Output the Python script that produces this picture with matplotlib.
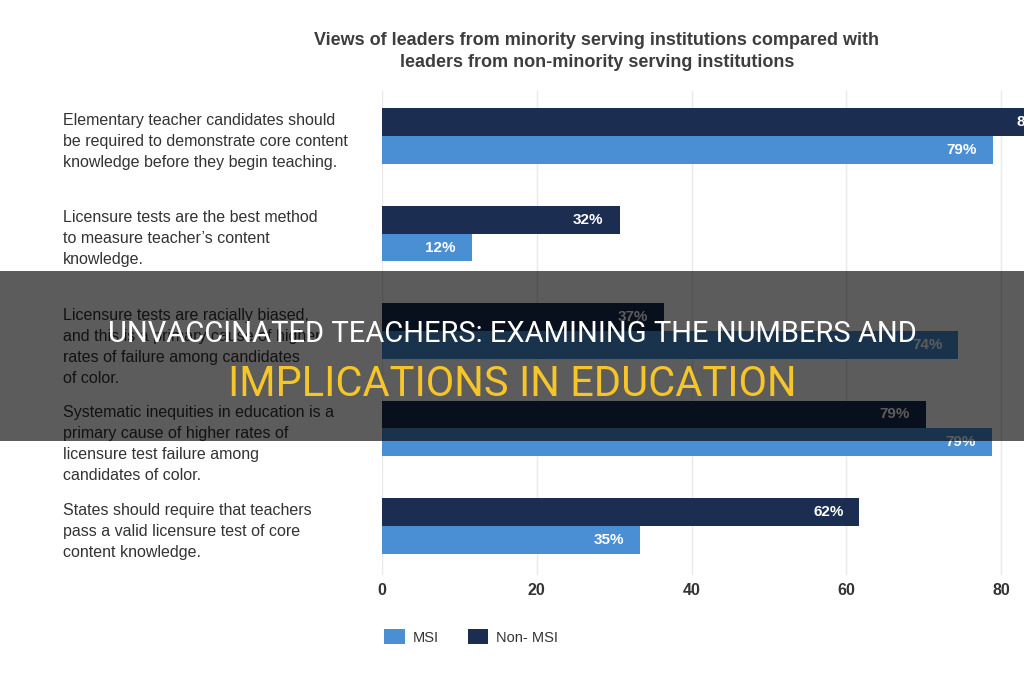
import matplotlib
matplotlib.use("Agg")
import matplotlib.pyplot as plt
from matplotlib.patches import Rectangle
from matplotlib.transforms import blended_transform_factory
import numpy as np

# ---- data ----
categories = [
    "Elementary teacher candidates should\nbe required to demonstrate core content\nknowledge before they begin teaching.",
    "Licensure tests are the best method\nto measure teacher\u2019s content\nknowledge.",
    "Licensure tests are racially biased,\nand this is a primary cause of higher\nrates of failure among candidates\nof color.",
    "Systematic inequities in education is a\nprimary cause of higher rates of\nlicensure test failure among\ncandidates of color.",
    "States should require that teachers\npass a valid licensure test of core\ncontent knowledge.",
]
non_msi = [88, 30.7, 36.4, 70.3, 61.7]
msi = [78.9, 11.6, 74.5, 78.8, 33.4]
non_msi_labels = ["88%", "32%", "37%", "79%", "62%"]
msi_labels = ["79%", "12%", "74%", "79%", "35%"]
series_names = ["MSI", "Non- MSI"]
xticks = [0, 20, 40, 60, 80]
title = "Views of leaders from minority serving institutions compared with\nleaders from non-minority serving institutions"
banner_line1 = "UNVACCINATED TEACHERS: EXAMINING THE NUMBERS AND"
banner_line2 = "IMPLICATIONS IN EDUCATION"

MSI_COLOR = "#4a8fd3"
NON_COLOR = "#1b2e51"
TEXT = "#333333"

plt.rcParams['font.family'] = ['Liberation Sans', 'DejaVu Sans']

fig = plt.figure(figsize=(10.24, 6.8), dpi=100)
fig.patch.set_facecolor("white")
ax = fig.add_axes([382/1024, 105/680, 1 - 382/1024, (575 - 90.7)/680])

y = np.arange(len(categories))
h = 0.287
b_non = ax.barh(y - h/2, non_msi, height=h, color=NON_COLOR, label=series_names[1], zorder=2)
b_msi = ax.barh(y + h/2, msi, height=h, color=MSI_COLOR, label=series_names[0], zorder=2)

ax.set_xlim(0, 82.97)
ax.set_ylim(4.503, -0.465)
ax.set_xticks(xticks)
ax.set_xticklabels([str(t) for t in xticks], fontsize=11.5, fontweight="bold", color=TEXT)
ax.tick_params(axis="x", length=0, pad=6)
ax.set_yticks([])
for s in ax.spines.values():
    s.set_visible(False)
ax.grid(axis="x", color="#e9e9e9", linewidth=1, zorder=0)
ax.set_axisbelow(True)

for bars, labels in ((b_non, non_msi_labels), (b_msi, msi_labels)):
    for rect, lab in zip(bars, labels):
        ax.annotate(lab, xy=(rect.get_width(), rect.get_y() + rect.get_height()/2),
                    xytext=(-16, 0), textcoords="offset pixels",
                    ha="right", va="center", color="white", fontsize=11,
                    fontweight="bold", annotation_clip=False, clip_on=False)

tr = blended_transform_factory(fig.transFigure, ax.transData)
for i, cat in enumerate(categories):
    ax.text(63/1024, i - h + 0.05, cat, transform=tr, ha="left", va="top",
            fontsize=11.5, color=TEXT, linespacing=1.5, clip_on=False)

fig.text(597/1024, 1 - 51.5/680, title, ha="center", va="center", fontsize=13,
         fontweight="bold", color="#3d3d3d", linespacing=1.45)

handles = [b_msi, b_non]
fig.legend(handles, series_names, loc="center left", bbox_to_anchor=(371/1024, 1 - 637/680),
           ncol=2, frameon=False, fontsize=10.5, handlelength=1.4, handleheight=1.2,
           handletextpad=0.55, columnspacing=2.0, labelcolor=TEXT)

# overlay banner
fig.add_artist(Rectangle((0, 1 - 441/680), 1, 170/680, transform=fig.transFigure,
                         facecolor="black", alpha=0.64, edgecolor="none", zorder=10))
fig.text(0.5, 1 - 334/680, banner_line1, ha="center", va="center", fontsize=21,
         color="white", family=["Roboto", "DejaVu Sans"], zorder=11)
fig.text(0.5, 1 - 384/680, banner_line2, ha="center", va="center", fontsize=30,
         color="#f5c52a", family=["Roboto", "DejaVu Sans"], zorder=11)

fig.savefig("out.png", dpi=100)
